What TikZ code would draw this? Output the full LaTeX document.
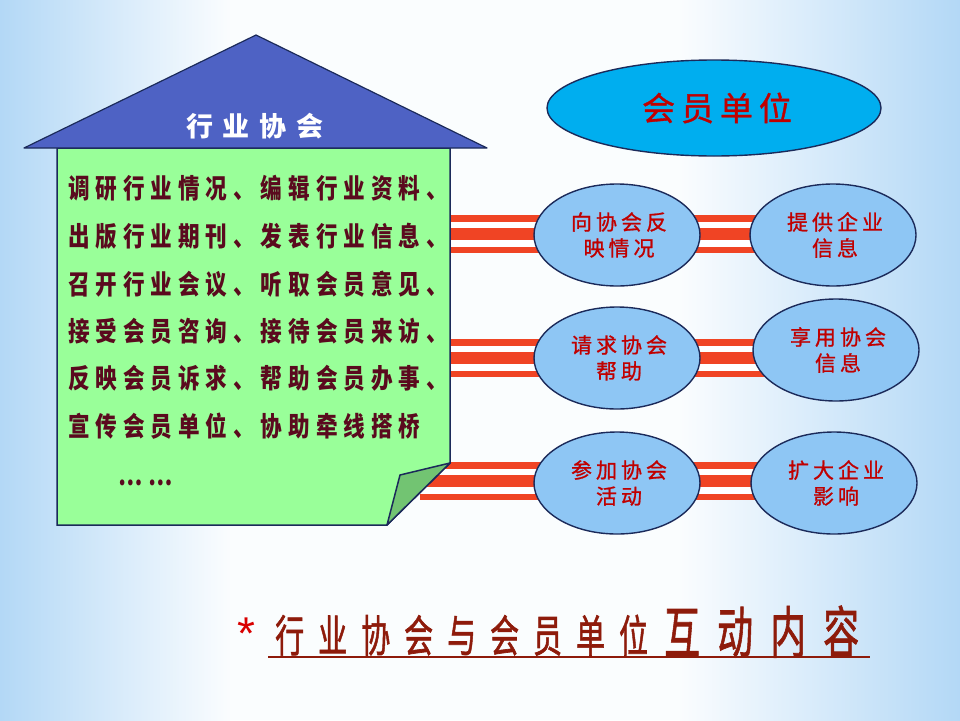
\documentclass[tikz,border=0pt]{standalone}
\usepackage{fontspec}
\usetikzlibrary{shapes.geometric,calc}
\newfontfamily\cjk{Noto Sans CJK SC}
\newfontfamily\boxfont[FakeStretch=0.8,LetterSpace=22]{Noto Sans CJK SC}
\newfontfamily\roofont[LetterSpace=37]{Noto Sans CJK SC}
\newfontfamily\ellfont[LetterSpace=19,FakeBold=1]{Noto Sans CJK SC}
\newfontfamily\topfont[LetterSpace=18,FakeBold=1]{Noto Sans CJK SC}
\newfontfamily\titlefont[LetterSpace=48,FakeBold=1.5]{Noto Sans CJK SC}
\setmainfont{Liberation Sans}
\definecolor{roofblue}{HTML}{4E62C4}
\definecolor{boxgreen}{HTML}{99FF99}
\definecolor{foldgreen}{HTML}{72C472}
\definecolor{navy}{HTML}{1B2A5A}
\definecolor{ellfill}{HTML}{8EC6F4}
\definecolor{topfill}{HTML}{00AEEF}
\definecolor{stripecol}{HTML}{F04424}
\definecolor{maroon}{HTML}{5A0A1E}
\definecolor{ellred}{HTML}{C00000}
\definecolor{titlered}{HTML}{8E1B0B}
\definecolor{bgblue}{HTML}{B3D8F6}
\tikzset{
  smallell/.style={ellipse,draw=navy,line width=1.4pt,fill=ellfill,minimum width=166pt,minimum height=102pt,inner sep=0pt,
    text=ellred,align=center,font=\ellfont\fontsize{21}{26}\selectfont},
  boxline/.style={anchor=west,inner sep=0pt,text=maroon,font=\boxfont\bfseries\fontsize{27}{30}\selectfont},
  thinband/.style={draw=stripecol,line width=6.5pt},
  thickband/.style={draw=stripecol,line width=12pt},
}
\begin{document}
\begin{tikzpicture}[x=1pt,y=-1pt]
\useasboundingbox (0,0) rectangle (960,720);
% background
\fill[white!94!bgblue] (0,0) rectangle (960,720);
\shade[left color=bgblue,right color=white!94!bgblue] (0,0) rectangle (230,720);
\shade[left color=white!94!bgblue,right color=bgblue] (680,0) rectangle (960,720);
% band coordinates
\foreach \i/\c in {1/234,2/358,3/481}{
  \coordinate (s\i) at (420,\c);
  \coordinate (e\i) at (834,\c);
}
\foreach \i in {1,2,3}{
  \fill[white] ($(s\i)+(0,-19)$) rectangle ($(e\i)+(0,19)$);
  \draw[thinband] ($(s\i)+(0,-15.5)$) -- ($(e\i)+(0,-15.5)$);
  \draw[thickband] (s\i) -- (e\i);
  \draw[thinband] ($(s\i)+(0,16)$) -- ($(e\i)+(0,16)$);
}
% house body
\draw[navy,line width=1.5pt,fill=boxgreen] (57,148) -- (450,148) -- (450,463) -- (387,525) -- (57,525) -- cycle;
\draw[navy,line width=1.5pt,fill=foldgreen,line join=round] (450,463) -- (400,475) -- (387,525) -- cycle;
% roof
\draw[navy,line width=1.2pt,fill=roofblue,line join=round] (24,148) -- (256,35) -- (487,148) -- cycle;
\node[text=white,inner sep=0pt,font=\roofont\bfseries\fontsize{27}{30}\selectfont] (rooftitle) at (255,126) {行业协会};
% box text
\node[boxline] (b1) at (68,188) {调研行业情况、编辑行业资料、};
\node[boxline] (b2) at (68,236) {出版行业期刊、发表行业信息、};
\node[boxline] (b3) at (68,284) {召开行业会议、听取会员意见、};
\node[boxline] (b4) at (68,331) {接受会员咨询、接待会员来访、};
\node[boxline] (b5) at (68,378) {反映会员诉求、帮助会员办事、};
\node[boxline] (b6) at (68,426) {宣传会员单位、协助牵线搭桥};
\node[boxline,anchor=center] (b7) at (146,483) {……};
% top ellipse
\node[ellipse,draw=navy,line width=1.4pt,fill=topfill,minimum width=334pt,minimum height=96pt,inner sep=0pt,
  text=ellred,font=\topfont\fontsize{33}{36}\selectfont] (member) at (714,108) {\hspace*{6pt}会员单位};
% small ellipses
\node[smallell] (l1) at (617,235) {\hspace*{4pt}向协会反\\\hspace*{4pt}映情况};
\node[smallell] (r1) at (833,235) {\hspace*{4pt}提供企业\\\hspace*{4pt}信息};
\node[smallell] (l2) at (617,358) {\hspace*{4pt}请求协会\\\hspace*{4pt}帮助};
\node[smallell] (r2) at (836,350) {\hspace*{4pt}享用协会\\\hspace*{4pt}信息};
\node[smallell] (l3) at (617,483) {\hspace*{4pt}参加协会\\\hspace*{4pt}活动};
\node[smallell] (r3) at (834,483) {\hspace*{4pt}扩大企业\\\hspace*{4pt}影响};
% bottom title
\node[text=red!85!black,inner sep=0pt,font=\fontsize{46}{46}\selectfont] (star) at (246,634) {*};
\node[anchor=base west,inner sep=0pt,text=titlered,font=\titlefont\fontsize{44}{48}\selectfont] (t1) at (275,652) {\scalebox{0.66}[1]{行业协会与会员单位}};
\node[anchor=base west,inner sep=0pt,text=titlered,font=\titlefont\fontsize{56}{60}\selectfont] (t2) at (664,653) {\scalebox{0.64}[1]{互动内容}};
\coordinate (u1) at (268,657);
\coordinate (u2) at (870,657);
\draw[titlered,line width=2pt] (u1) -- (u2);
\end{tikzpicture}
\end{document}
